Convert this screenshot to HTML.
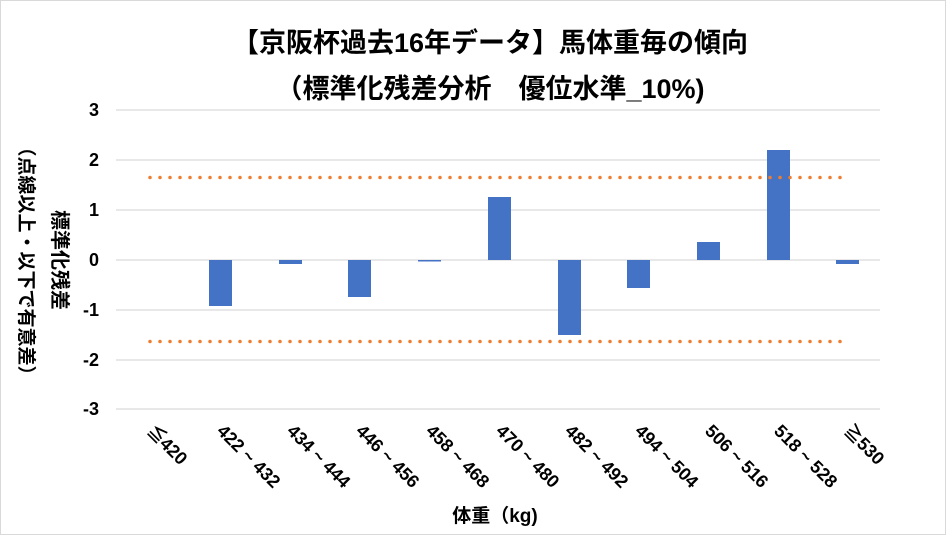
<!DOCTYPE html><html><head><meta charset="utf-8"><style>body{margin:0;background:#fff}svg{display:block}text{font-family:"Liberation Sans","Noto Sans CJK JP",sans-serif;font-weight:bold;fill:#000}</style></head><body>
<svg width="946" height="535" viewBox="0 0 946 535">
<rect x="0.5" y="0.5" width="945" height="534" fill="#fff" stroke="#d9d9d9"/>
<text x="490" y="52" font-size="27" text-anchor="middle">【京阪杯過去16年データ】馬体重毎の傾向</text>
<text x="490" y="98" font-size="27" text-anchor="middle">（標準化残差分析　優位水準_10%)</text>
<g stroke="#d9d9d9" stroke-width="1.3">
<line x1="116" x2="880" y1="110" y2="110"/><line x1="116" x2="880" y1="160" y2="160"/><line x1="116" x2="880" y1="210" y2="210"/><line x1="116" x2="880" y1="260" y2="260"/><line x1="116" x2="880" y1="310" y2="310"/><line x1="116" x2="880" y1="360" y2="360"/><line x1="116" x2="880" y1="409" y2="409"/></g>
<g font-size="18" text-anchor="end"><text x="99" y="116">3</text><text x="99" y="166">2</text><text x="99" y="216">1</text><text x="99" y="266">0</text><text x="99" y="316">-1</text><text x="99" y="366">-2</text><text x="99" y="415">-3</text></g>
<g fill="#4472c4">
<rect x="209" y="260" width="23" height="46"/><rect x="279" y="260" width="23" height="4"/><rect x="348" y="260" width="23" height="37"/><rect x="418" y="260" width="23" height="1.5"/><rect x="488" y="197" width="23" height="63"/><rect x="558" y="260" width="23" height="75"/><rect x="627" y="260" width="23" height="28"/><rect x="697" y="242" width="23" height="18"/><rect x="767" y="150" width="23" height="110"/><rect x="836" y="260" width="23" height="4"/></g>
<g stroke="#ed7d31" stroke-width="3.5" stroke-linecap="round" stroke-dasharray="0 10"><line x1="150" x2="845" y1="177.5" y2="177.5"/><line x1="150" x2="845" y1="341.5" y2="341.5"/></g>
<g font-size="18">
<text transform="translate(146,432) rotate(45)">≦420</text>
<text transform="translate(216,432) rotate(45)">422 ~ 432</text>
<text transform="translate(286,432) rotate(45)">434 ~ 444</text>
<text transform="translate(355,432) rotate(45)">446 ~ 456</text>
<text transform="translate(425,432) rotate(45)">458 ~ 468</text>
<text transform="translate(495,432) rotate(45)">470 ~ 480</text>
<text transform="translate(564,432) rotate(45)">482 ~ 492</text>
<text transform="translate(634,432) rotate(45)">494 ~ 504</text>
<text transform="translate(704,432) rotate(45)">506 ~ 516</text>
<text transform="translate(773,432) rotate(45)">518 ~ 528</text>
<text transform="translate(843,432) rotate(45)">≧530</text></g>
<text x="495" y="522" font-size="19" text-anchor="middle">体重（kg)</text>
<text transform="translate(53,260) rotate(90)" font-size="20" text-anchor="middle">標準化残差</text>
<text transform="translate(20,261) rotate(90)" font-size="19" text-anchor="middle">（点線以上・以下で有意差）</text>
</svg></body></html>
